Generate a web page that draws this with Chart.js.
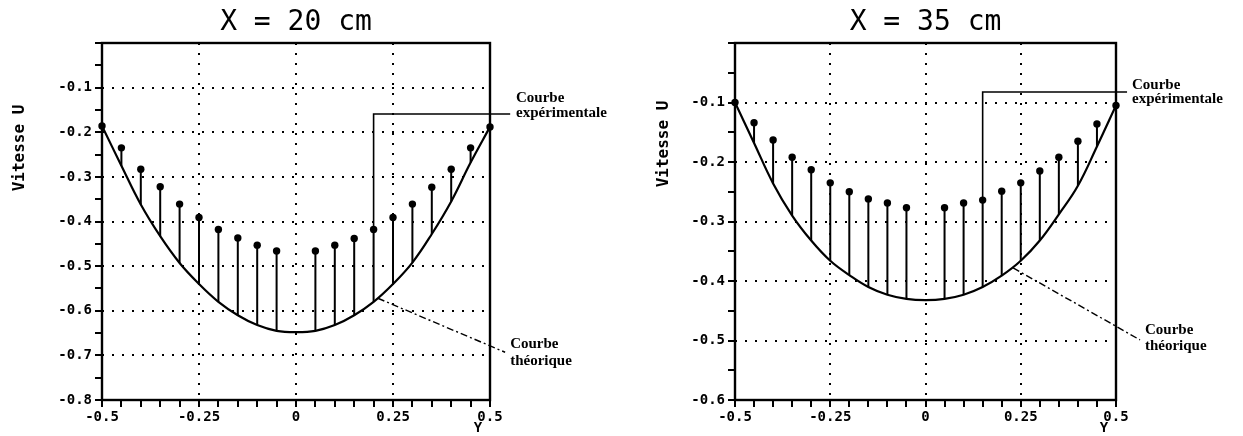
<!DOCTYPE html>
<html>
<head>
<meta charset="utf-8">
<script src="https://cdn.jsdelivr.net/npm/chart.js@4"></script>
<style>
  html, body { margin: 0; padding: 0; background: #fff; }
  #wrap { position: relative; width: 1243px; height: 436px; overflow: hidden; }
  canvas { position: absolute; top: 0; }
  #c20 { left: 0; }
  #c35 { left: 621px; }
</style>
</head>
<body>
<div id="wrap">
  <canvas id="c20" width="621" height="436"></canvas>
  <canvas id="c35" width="622" height="436"></canvas>
</div>
<script>
// Transverse positions Y of the measured profiles
const measPositions = [-0.5, -0.45, -0.4, -0.35, -0.3, -0.25, -0.2, -0.15, -0.1, -0.05,
                        0.05, 0.1, 0.15, 0.2, 0.25, 0.3, 0.35, 0.4, 0.45, 0.5];
// Positions where the theoretical profile is given
const theoPositions = [-0.5, -0.45, -0.4, -0.35, -0.3, -0.25, -0.2, -0.15, -0.1, -0.05, 0,
                        0.05, 0.1, 0.15, 0.2, 0.25, 0.3, 0.35, 0.4, 0.45, 0.5];

// X = 20 cm
const measured20 = [-0.186, -0.235, -0.283, -0.322, -0.361, -0.391, -0.418, -0.437, -0.453, -0.466,
                    -0.466, -0.453, -0.438, -0.418, -0.391, -0.361, -0.323, -0.283, -0.235, -0.188];
const theory20 = [-0.186, -0.275, -0.362, -0.433, -0.493, -0.54, -0.58, -0.61, -0.632, -0.645, -0.648,
                  -0.645, -0.632, -0.61, -0.58, -0.54, -0.492, -0.428, -0.355, -0.268, -0.188];

// X = 35 cm
const measured35 = [-0.1, -0.134, -0.163, -0.192, -0.213, -0.235, -0.25, -0.262, -0.269, -0.277,
                    -0.277, -0.269, -0.264, -0.249, -0.235, -0.215, -0.192, -0.165, -0.136, -0.105];
const theory35 = [-0.1, -0.168, -0.236, -0.29, -0.332, -0.366, -0.39, -0.41, -0.423, -0.43, -0.432,
                  -0.43, -0.423, -0.41, -0.391, -0.366, -0.332, -0.288, -0.24, -0.174, -0.105];

// Labelled ticks
const xTickValues = [-0.5, -0.25, 0, 0.25, 0.5];
const xTickLabels = ['-0.5', '-0.25', '0', '0.25', '0.5'];
const yTickValues20 = [-0.1, -0.2, -0.3, -0.4, -0.5, -0.6, -0.7, -0.8];
const yTickLabels20 = ['-0.1', '-0.2', '-0.3', '-0.4', '-0.5', '-0.6', '-0.7', '-0.8'];
const yTickValues35 = [-0.1, -0.2, -0.3, -0.4, -0.5, -0.6];
const yTickLabels35 = ['-0.1', '-0.2', '-0.3', '-0.4', '-0.5', '-0.6'];

const near = (a, b) => Math.abs(a - b) < 1e-6;
const labelFor = (vals, labs) => v => {
  const i = vals.findIndex(t => near(t, v));
  return i < 0 ? '' : labs[i];
};

const TICK_FONT = { family: 'DejaVu Sans Mono', size: 14, weight: 'bold' };

// Frame, leader lines, annotations and axis names
const notesPlugin = {
  id: 'notes',
  afterDatasetsDraw(chart, args, o) {
    const { ctx, chartArea: a } = chart;
    const x = chart.scales.x, y = chart.scales.y;
    const px = v => x.getPixelForValue(v), py = v => y.getPixelForValue(v);
    ctx.save();
    ctx.strokeStyle = '#000';
    ctx.fillStyle = '#000';

    // plot frame
    ctx.lineWidth = 2.4;
    ctx.strokeRect(a.left, a.top, a.right - a.left, a.bottom - a.top);

    // leader to the measured profile
    const e = o.expLeader;
    ctx.lineWidth = 1.6;
    ctx.beginPath();
    ctx.moveTo(px(e.x), py(e.from));
    ctx.lineTo(px(e.x), py(e.level));
    ctx.lineTo(px(e.toX), py(e.level));
    ctx.stroke();

    // leader to the theoretical profile (dash-dot)
    const t = o.theoLeader;
    ctx.setLineDash([7, 3, 2, 3]);
    ctx.lineWidth = 1.4;
    ctx.beginPath();
    ctx.moveTo(px(t.from[0]), py(t.from[1]));
    ctx.lineTo(px(t.to[0]), py(t.to[1]));
    ctx.stroke();
    ctx.setLineDash([]);

    // annotation texts
    ctx.font = 'bold 15px "Liberation Serif"';
    ctx.textAlign = 'left';
    ctx.textBaseline = 'alphabetic';
    for (const n of o.texts) {
      n.lines.forEach((s, i) => ctx.fillText(s, px(n.x), py(n.y) + i * n.gap));
    }

    // vertical axis name
    ctx.font = 'bold 16px "DejaVu Sans Mono"';
    ctx.textAlign = 'center';
    ctx.textBaseline = 'middle';
    ctx.save();
    ctx.translate(o.yName.left, o.yName.top);
    ctx.rotate(-Math.PI / 2);
    ctx.fillText('Vitesse U', 0, 0);
    ctx.restore();

    // horizontal axis name under the last tick
    ctx.font = 'bold 14px "DejaVu Sans Mono"';
    ctx.fillText('Y', px(0.5) - 12, a.bottom + 28);
    ctx.restore();
  }
};

function makeChart(id, title, meas, theo, yMin, yTickVals, yTickLabs, yAxisWidth, padRight, notes) {
  const theoAt = v => theo[theoPositions.findIndex(p => near(p, v))];
  const stems = [];
  measPositions.forEach((p, i) => {
    stems.push({ x: p, y: meas[i] });
    stems.push({ x: p, y: theoAt(p) });
    stems.push({ x: p, y: null });
  });

  return new Chart(document.getElementById(id), {
    type: 'scatter',
    data: {
      datasets: [
        { // vertical stems from measured value down to theoretical curve
          data: stems, showLine: true, spanGaps: false,
          borderColor: '#000', borderWidth: 2, pointRadius: 0
        },
        { // theoretical profile
          data: theoPositions.map((p, i) => ({ x: p, y: theo[i] })),
          showLine: true, borderColor: '#000', borderWidth: 2.2,
          tension: 0.4, pointRadius: 0
        },
        { // measured points
          data: measPositions.map((p, i) => ({ x: p, y: meas[i] })),
          showLine: false, pointRadius: 3.7, pointBackgroundColor: '#000',
          pointBorderColor: '#000', pointBorderWidth: 0, clip: false
        }
      ]
    },
    options: {
      responsive: false,
      animation: false,
      events: [],
      layout: { padding: { left: 0, right: padRight, top: 0, bottom: 0 } },
      plugins: {
        legend: { display: false },
        tooltip: { enabled: false },
        title: {
          display: true, text: title, fullSize: false, color: '#000',
          font: { family: 'DejaVu Sans Mono', size: 28, weight: 'normal', lineHeight: 1.2 },
          padding: { top: 6, bottom: 3.4 }
        },
        notes
      },
      scales: {
        x: {
          type: 'linear', min: -0.5, max: 0.5,
          afterFit: s => { s.height = 36; },
          ticks: {
            stepSize: 0.05, maxTicksLimit: 100, autoSkip: false, maxRotation: 0,
            padding: 2, color: '#000', font: TICK_FONT,
            callback: labelFor(xTickValues, xTickLabels)
          },
          grid: {
            color: c => (xTickValues.some(v => near(v, c.tick.value)) && !near(Math.abs(c.tick.value), 0.5)) ? '#000' : 'rgba(0,0,0,0)',
            lineWidth: 2, tickColor: '#000', tickWidth: 2, tickLength: 7
          },
          border: { display: false, dash: [2, 8] }
        },
        y: {
          type: 'linear', min: yMin, max: 0,
          afterFit: s => { s.width = yAxisWidth; },
          ticks: {
            stepSize: 0.05, maxTicksLimit: 100, autoSkip: false,
            padding: 3, color: '#000', font: TICK_FONT,
            callback: labelFor(yTickVals, yTickLabs)
          },
          grid: {
            color: c => (yTickVals.some(v => near(v, c.tick.value)) && !near(c.tick.value, yMin)) ? '#000' : 'rgba(0,0,0,0)',
            lineWidth: 2, tickColor: '#000', tickWidth: 2, tickLength: 7
          },
          border: { display: false, dash: [2, 8] }
        }
      }
    },
    plugins: [notesPlugin]
  });
}

makeChart('c20', 'X = 20 cm', measured20, theory20, -0.8, yTickValues20, yTickLabels20, 102, 131, {
  expLeader: { x: 0.2, from: -0.418, level: -0.159, toX: 0.552 },
  theoLeader: { from: [0.211, -0.572], to: [0.539, -0.693] },
  texts: [
    { x: 0.567, y: -0.132, gap: 15, lines: ['Courbe', 'expérimentale'] },
    { x: 0.552, y: -0.684, gap: 17, lines: ['Courbe', 'théorique'] }
  ],
  yName: { left: 19.5, top: 148 }
});

makeChart('c35', 'X = 35 cm', measured35, theory35, -0.6, yTickValues35, yTickLabels35, 114, 127, {
  expLeader: { x: 0.15, from: -0.264, level: -0.0824, toX: 0.529 },
  theoLeader: { from: [0.23, -0.378], to: [0.563, -0.499] },
  texts: [
    { x: 0.542, y: -0.077, gap: 14, lines: ['Courbe', 'expérimentale'] },
    { x: 0.576, y: -0.489, gap: 16, lines: ['Courbe', 'théorique'] }
  ],
  yName: { left: 43, top: 144 }
});
</script>
</body>
</html>
